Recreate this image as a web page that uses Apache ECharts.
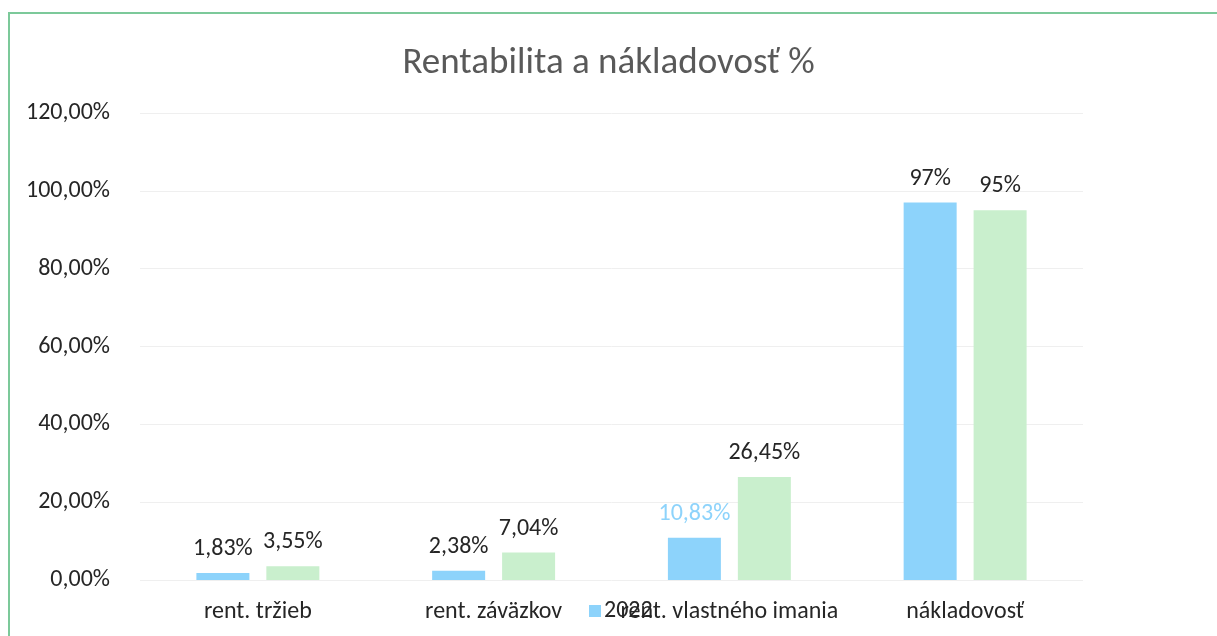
<!DOCTYPE html>
<html>
<head>
<meta charset="utf-8">
<script src="https://cdn.jsdelivr.net/npm/echarts@6/dist/echarts.min.js"></script>
<style>
  html, body { margin: 0; padding: 0; background: #fff; }
  #main { width: 1217px; height: 636px; }
</style>
</head>
<body>
<div id="main"></div>
<script>
var categories = ["rent. tržieb", "rent. záväzkov", "rent. vlastného imania", "nákladovosť"];
var values2022 = [1.83, 2.38, 10.83, 97];
var values2023 = [3.55, 7.04, 26.45, 95];
var labels2022 = ["1,83%", "2,38%", "10,83%", "97%"];
var labels2023 = ["3,55%", "7,04%", "26,45%", "95%"];
var yTicks = { min: 0, max: 120, interval: 20 };

var font = "Carlito, 'Open Sans', 'Noto Sans', sans-serif";
var blue = "#8dd3fb";
var green = "#c9efcd";
var textColor = "#262626";

var chart = echarts.init(document.getElementById("main"));

var option = {
  backgroundColor: "#fff",
  title: {
    text: "Rentabilita a nákladovosť %",
    left: "center",
    top: 40,
    textStyle: { fontFamily: font, fontSize: 37, fontWeight: "normal", color: "#595959" }
  },
  graphic: [{
    type: "rect",
    shape: { x: 9, y: 13, width: 1300, height: 700 },
    style: { fill: "none", stroke: "#7cc99a", lineWidth: 2 }
  }],
  legend: {
    data: ["2022"],
    left: 584,
    top: 594,
    icon: "rect",
    itemWidth: 12,
    itemHeight: 12,
    itemGap: 2,
    textStyle: { fontFamily: font, fontSize: 24, color: textColor, padding: [0, 0, 0, -2] }
  },
  grid: { left: 140, right: 134, top: 113, bottom: 56 },
  xAxis: {
    type: "category",
    data: categories,
    axisLine: { show: false },
    axisTick: { show: false },
    axisLabel: { interval: 0, fontFamily: font, fontSize: 24, color: textColor, margin: 20 }
  },
  yAxis: {
    type: "value",
    min: yTicks.min,
    max: yTicks.max,
    interval: yTicks.interval,
    axisLine: { show: false },
    axisTick: { show: false },
    axisLabel: {
      fontFamily: font, fontSize: 24, color: textColor, margin: 30,
      formatter: function (v) { return v.toFixed(2).replace(".", ",") + "%"; }
    },
    splitLine: { lineStyle: { color: "#efefef", width: 1 } }
  },
  series: [
    {
      name: "2022",
      type: "bar",
      data: values2022,
      barWidth: 53,
      barGap: "32%",
      itemStyle: { color: blue },
      label: {
        show: true, position: "top", distance: 12,
        fontFamily: font, fontSize: 24, color: textColor,
        formatter: function (p) { return labels2022[p.dataIndex]; }
      }
    },
    {
      name: "2023",
      type: "bar",
      data: values2023,
      barWidth: 53,
      itemStyle: { color: green },
      label: {
        show: true, position: "top", distance: 12,
        fontFamily: font, fontSize: 24, color: textColor,
        formatter: function (p) { return labels2023[p.dataIndex]; }
      }
    }
  ]
};

// the 10,83% label is drawn in the bar colour in the original
option.series[0].data = values2022.map(function (v, i) {
  return i === 2 ? { value: v, label: { color: blue } } : v;
});

chart.setOption(option);
</script>
</body>
</html>
